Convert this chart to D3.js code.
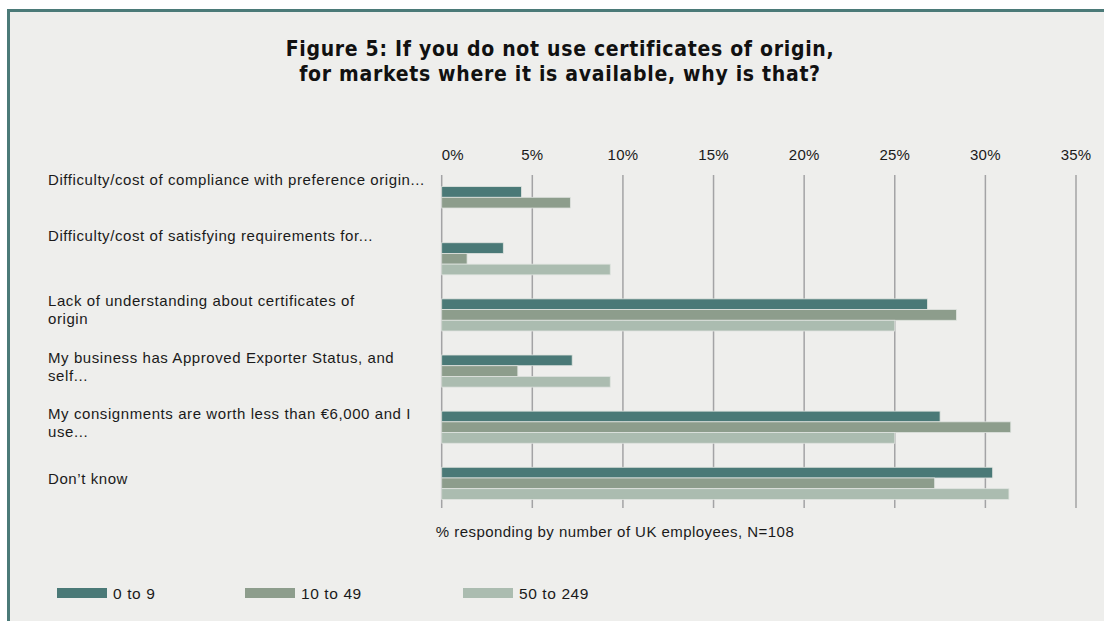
<!DOCTYPE html>
<html>
<head>
<meta charset="utf-8">
<script src="https://cdn.jsdelivr.net/npm/d3@7"></script>
<style>
  html, body { margin: 0; padding: 0; background: #ffffff; }
  svg { display: block; }
</style>
</head>
<body>
<div id="chart"></div>
<script>
// categories, top to bottom; "nominalLines" mirrors how many lines the label had before truncation
const categories = [
    'Difficulty/cost of compliance with preference origin...',
    'Difficulty/cost of satisfying requirements for...',
    'Lack of understanding about certificates of origin',
    'My business has Approved Exporter Status, and self...',
    'My consignments are worth less than €6,000 and I use...',
    'Don’t know',
];
const labelLines = [
    ['Difficulty/cost of compliance with preference origin...'],
    ['Difficulty/cost of satisfying requirements for...'],
    ['Lack of understanding about certificates of', 'origin'],
    ['My business has Approved Exporter Status, and', 'self...'],
    ['My consignments are worth less than €6,000 and I', 'use...'],
    ['Don’t know'],
];
const nominalLines = [3, 3, 2, 2, 2, 1];

const series = ['0 to 9', '10 to 49', '50 to 249'];
const values0to9 = [4.4, 3.4, 26.8, 7.2, 27.5, 30.4];
const values10to49 = [7.1, 1.4, 28.4, 4.2, 31.4, 27.2];
const values50to249 = [0, 9.3, 25.0, 9.3, 25.0, 31.3];
const ticks = [0, 5, 10, 15, 20, 25, 30, 35];

const colors = ['#4a7977', '#8d9d8c', '#abbcb0'];

const width = 1104;
const height = 621;

const table = categories.map((c, i) => ({
    category: c,
    values: [values0to9[i], values10to49[i], values50to249[i]],
}));

const svg = d3.select('#chart').append('svg')
    .attr('width', width)
    .attr('height', height);

// frame
svg.append('rect')
    .attr('x', 8.5).attr('y', 10.5)
    .attr('width', width + 20).attr('height', height + 20)
    .attr('fill', '#eeeeec')
    .attr('stroke', '#4b7a78')
    .attr('stroke-width', 3);

// title
svg.append('text')
    .attr('x', 560)
    .attr('y', 56)
    .attr('text-anchor', 'middle')
    .attr('font-family', '"Liberation Sans Narrow", "DejaVu Sans Condensed", Arial, sans-serif')
    .attr('font-weight', 'bold')
    .attr('font-size', 21)
    .attr('letter-spacing', 0.7)
    .attr('fill', '#111')
    .selectAll('tspan')
    .data(['Figure 5: If you do not use certificates of origin,', 'for markets where it is available, why is that?'])
    .join('tspan')
    .attr('x', 560)
    .attr('dy', (d, i) => (i === 0 ? 0 : 25))
    .text(d => d);

const x = d3.scaleLinear().domain([0, 35]).range([441.7, 1076]);
const y0 = d3.scaleBand().domain(categories).range([174.6, 511.4]);
const y1 = d3.scaleBand().domain(series).range([y0.bandwidth() * 0.214, y0.bandwidth() * 0.786]);

const font = '"Liberation Sans", Arial, sans-serif';

// gridlines
svg.append('g')
    .selectAll('line')
    .data(ticks)
    .join('line')
    .attr('x1', d => x(d)).attr('x2', d => x(d))
    .attr('y1', 175).attr('y2', 508)
    .attr('stroke', '#a3a3a5')
    .attr('stroke-width', 1.5);

// tick labels
svg.append('g')
    .selectAll('text')
    .data(ticks)
    .join('text')
    .attr('x', d => x(d))
    .attr('y', 160)
    .attr('text-anchor', d => (d === 0 ? 'start' : 'middle'))
    .attr('font-family', font)
    .attr('font-size', 15)
    .attr('letter-spacing', 0.2)
    .attr('fill', '#1a1a1a')
    .text(d => `${d}%`);

// bars
svg.append('g')
    .selectAll('g')
    .data(table)
    .join('g')
    .attr('transform', d => `translate(0,${y0(d.category)})`)
    .selectAll('rect')
    .data(d => d.values.map((v, i) => ({ key: series[i], value: v, i })))
    .join('rect')
    .attr('x', x(0))
    .attr('y', d => y1(d.key))
    .attr('width', d => x(d.value) - x(0))
    .attr('height', y1.bandwidth())
    .attr('fill', d => colors[d.i])
    .attr('stroke', d => (d.value > 0 ? '#dfe3df' : 'none'))
    .attr('stroke-width', 0.8);

// category labels
const labels = svg.append('g');
labelLines.forEach((lines, i) => {
    const center = y0(categories[i]) + y0.bandwidth() / 2 - 4.5;
    const firstLine = center - (nominalLines[i] - 1) * 9;
    labels.append('text')
        .attr('font-family', font)
        .attr('font-size', 15)
        .attr('letter-spacing', 0.58)
        .attr('fill', '#1a1a1a')
        .selectAll('tspan')
        .data(lines)
        .join('tspan')
        .attr('x', 48)
        .attr('y', (d, j) => firstLine + j * 18 + 5)
        .text(d => d);
});

// axis title
svg.append('text')
    .attr('x', 615)
    .attr('y', 537)
    .attr('text-anchor', 'middle')
    .attr('font-family', font)
    .attr('font-size', 15)
    .attr('letter-spacing', 0.45)
    .attr('fill', '#1a1a1a')
    .text('% responding by number of UK employees, N=108');

// legend
const legendX = [57, 245, 463];
const legend = svg.append('g')
    .selectAll('g')
    .data(series)
    .join('g')
    .attr('transform', (d, i) => `translate(${legendX[i]},588)`);
legend.append('rect')
    .attr('width', 50)
    .attr('height', 10)
    .attr('fill', (d, i) => colors[i]);
legend.append('text')
    .attr('x', 56)
    .attr('y', 10.5)
    .attr('font-family', font)
    .attr('font-size', 15.5)
    .attr('letter-spacing', 0.6)
    .attr('fill', '#1a1a1a')
    .text(d => d);
</script>
</body>
</html>
